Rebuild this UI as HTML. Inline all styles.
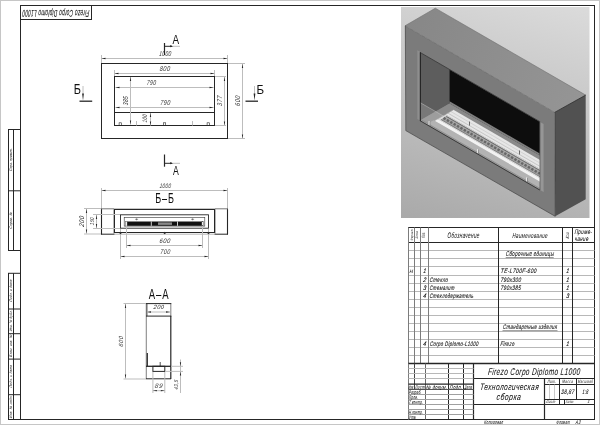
<!DOCTYPE html><html><head><meta charset="utf-8"><style>html,body{margin:0;padding:0;background:#fff;}svg{display:block;filter:grayscale(1);}text{font-family:"Liberation Sans",sans-serif;}</style></head><body>
<svg width="600" height="425" viewBox="0 0 600 425">
<rect x="0" y="0" width="600" height="425" fill="#fff"/>
<defs>
<linearGradient id="bg3d" gradientUnits="userSpaceOnUse" x1="401" y1="218" x2="477.4" y2="-55.5">
<stop offset="0" stop-color="#a9a9a9"/><stop offset="1" stop-color="#e1e1e1"/>
</linearGradient>
<linearGradient id="topf" gradientUnits="userSpaceOnUse" x1="405" y1="26" x2="585" y2="95">
<stop offset="0" stop-color="#878787"/><stop offset="1" stop-color="#959595"/>
</linearGradient>
<clipPath id="opening"><polygon points="420,52.5 539.8,121.7 539.8,189.7 420,120.5"/></clipPath>
</defs>
<rect x="401" y="7" width="188.5" height="211" fill="url(#bg3d)"/>
<polygon points="405,25.8 435.3,8.2 585.7,95.1 554.7,112.4" fill="url(#topf)"/>
<polygon points="554.7,112.4 585.7,95.1 585.7,199.3 555.2,216.3" fill="#515151"/>
<polygon points="405,25.8 554.7,112.4 555.2,216.3 405.8,130.6" fill="#7b7b7b"/>
<polygon points="417.3,50.2 420,51.8 420,120.4 417.3,118.9" fill="#8e8e8e"/>
<polygon points="539.8,121.7 543.6,123.9 543.6,192 539.8,189.8" fill="#969696"/>
<g clip-path="url(#opening)">
<polygon points="420,52.5 449.5,69.55 449.5,103.45 420,120.5" fill="#5d5d5d"/>
<polygon points="449.5,69.55 539.8,121.7 539.8,155.6 449.5,103.45" fill="#0d0d0d"/>
<polygon points="420,120.5 449.5,103.45 539.8,155.6 539.8,189.7" fill="#8a8a8a"/>
<polygon points="449.5,101.3 539.8,153.5 539.8,155.6 449.5,103.45" fill="#7e7e7e"/>
<polygon points="427.70,123.56 433.60,120.15 552.10,188.65 546.20,192.06" fill="#a4a4a4" />
<line x1="421.20" y1="119.81" x2="546.20" y2="192.06" stroke="#6a6a6a" stroke-width="0.6"/>
<polygon points="445.50,114.43 453.40,109.86 570.90,177.78 563.00,182.35" fill="#e6e6e6" />
<line x1="447.80" y1="113.10" x2="565.30" y2="181.02" stroke="#b8b8b8" stroke-width="0.7"/>
<line x1="450.70" y1="111.43" x2="568.20" y2="179.34" stroke="#c4c4c4" stroke-width="0.6"/>
<polygon points="437.60,119.00 445.50,114.43 563.00,182.35 555.10,186.91" fill="#d8d8d8" />
<polygon points="440.80,119.46 446.30,116.28 561.80,183.04 556.30,186.22" fill="#8e8e8e" />
<line x1="440.80" y1="119.46" x2="556.30" y2="186.22" stroke="#333" stroke-width="0.6"/>
<line x1="446.30" y1="116.28" x2="561.80" y2="183.04" stroke="#444" stroke-width="0.6"/>
<line x1="443.55" y1="117.87" x2="559.05" y2="184.63" stroke="#4a4a4a" stroke-width="2.6" stroke-dasharray="2.4 1.5"/>
<polygon points="434.60,120.73 437.60,119.00 555.10,186.91 552.10,188.65" fill="#f0f0f0" />
<line x1="434.60" y1="120.73" x2="453.40" y2="109.86" stroke="#9a9a9a" stroke-width="0.6"/>
<line x1="429.10" y1="125.07" x2="429.10" y2="121.07" stroke="#e8e8e8" stroke-width="1.0"/>
<line x1="430.00" y1="125.59" x2="430.00" y2="121.59" stroke="#555" stroke-width="0.5"/>
<line x1="477.60" y1="153.10" x2="477.60" y2="149.10" stroke="#e8e8e8" stroke-width="1.0"/>
<line x1="478.50" y1="153.62" x2="478.50" y2="149.62" stroke="#555" stroke-width="0.5"/>
<line x1="526.60" y1="181.42" x2="526.60" y2="177.42" stroke="#e8e8e8" stroke-width="1.0"/>
<line x1="527.50" y1="181.94" x2="527.50" y2="177.94" stroke="#555" stroke-width="0.5"/>
<line x1="469.50" y1="125.57" x2="469.50" y2="121.57" stroke="#333" stroke-width="0.7"/>
<line x1="519.50" y1="154.47" x2="519.50" y2="150.47" stroke="#333" stroke-width="0.7"/>
<polygon points="420,102.5 539.8,171.7 539.8,189.7 420,120.5" fill="#ffffff" fill-opacity="0.17"/>
<line x1="420" y1="102.5" x2="539.8" y2="171.7" stroke="#d6d6d6" stroke-width="0.4"/>
</g>
<line x1="420.3" y1="52.3" x2="420.3" y2="121" stroke="#111" stroke-width="0.9"/>
<line x1="420" y1="52.4" x2="539.8" y2="121.6" stroke="#2a2a2a" stroke-width="0.7"/>
<line x1="420" y1="120.7" x2="539.8" y2="190" stroke="#2a2a2a" stroke-width="0.8"/>
<line x1="540" y1="121.6" x2="540" y2="190" stroke="#3a3a3a" stroke-width="0.5"/>
<polyline points="405,25.8 435.3,8.2 585.7,95.1" fill="none" stroke="#6f6f6f" stroke-width="0.6"/>
<line x1="405" y1="25.8" x2="554.7" y2="112.4" stroke="#5e5e5e" stroke-width="0.8" stroke-dasharray="0.8 0.6"/>
<line x1="554.7" y1="112.4" x2="585.7" y2="95.1" stroke="#2a2a2a" stroke-width="0.8"/>
<line x1="405.3" y1="25.8" x2="405.8" y2="130.6" stroke="#4a4a4a" stroke-width="0.7"/>
<line x1="405.8" y1="130.6" x2="555.2" y2="216.3" stroke="#444" stroke-width="0.7"/>
<line x1="555" y1="112.4" x2="555.2" y2="216.3" stroke="#3a3a3a" stroke-width="0.6"/>
<rect x="20.5" y="5.5" width="574" height="414" stroke="#262626" stroke-width="1" fill="none"/>
<rect x="20.5" y="5.5" width="71" height="14" stroke="#262626" stroke-width="1" fill="none"/>
<text x="0" y="0" font-size="9.7" font-style="italic" font-weight="normal" text-anchor="middle" fill="#111" stroke="#111" stroke-width="0.1" textLength="137.79" lengthAdjust="spacing" transform="translate(56.1 10.1) rotate(180) scale(0.486 1) skewX(-9)">Firezo Corpo Diplomo L1000</text>
<rect x="8.5" y="129.5" width="12" height="121.0" stroke="#262626" stroke-width="1" fill="none"/>
<line x1="13.5" y1="129.5" x2="13.5" y2="250.5" stroke="#262626" stroke-width="1" />
<line x1="8.5" y1="190.8" x2="20.5" y2="190.8" stroke="#262626" stroke-width="1" />
<text x="0" y="0" font-size="3.8" font-style="italic" font-weight="normal" text-anchor="middle" fill="#111" stroke="#111" stroke-width="0" textLength="28.07" lengthAdjust="spacing" transform="translate(12.4 159.65) rotate(-90) scale(0.809 1) skewX(-9)">Перв. примен.</text>
<text x="0" y="0" font-size="3.8" font-style="italic" font-weight="normal" text-anchor="middle" fill="#111" stroke="#111" stroke-width="0" textLength="19.19" lengthAdjust="spacing" transform="translate(12.4 220.4) rotate(-90) scale(0.870 1) skewX(-9)">Справ. №</text>
<rect x="8.5" y="273.3" width="12" height="146.2" stroke="#262626" stroke-width="1" fill="none"/>
<line x1="13.5" y1="273.3" x2="13.5" y2="419.5" stroke="#262626" stroke-width="1" />
<line x1="8.5" y1="309.0" x2="20.5" y2="309.0" stroke="#262626" stroke-width="1" />
<line x1="8.5" y1="333.7" x2="20.5" y2="333.7" stroke="#262626" stroke-width="1" />
<line x1="8.5" y1="359.1" x2="20.5" y2="359.1" stroke="#262626" stroke-width="1" />
<line x1="8.5" y1="394.7" x2="20.5" y2="394.7" stroke="#262626" stroke-width="1" />
<text x="0" y="0" font-size="3.8" font-style="italic" font-weight="normal" text-anchor="middle" fill="#111" stroke="#111" stroke-width="0" textLength="26.43" lengthAdjust="spacing" transform="translate(12.4 290.65) rotate(-90) scale(0.832 1) skewX(-9)">Подп. и дата</text>
<text x="0" y="0" font-size="3.8" font-style="italic" font-weight="normal" text-anchor="middle" fill="#111" stroke="#111" stroke-width="0" textLength="25.97" lengthAdjust="spacing" transform="translate(12.4 320.85) rotate(-90) scale(0.809 1) skewX(-9)">Инв. № дубл.</text>
<text x="0" y="0" font-size="3.8" font-style="italic" font-weight="normal" text-anchor="middle" fill="#111" stroke="#111" stroke-width="0" textLength="26.11" lengthAdjust="spacing" transform="translate(12.4 345.9) rotate(-90) scale(0.842 1) skewX(-9)">Взам. инв. №</text>
<text x="0" y="0" font-size="3.8" font-style="italic" font-weight="normal" text-anchor="middle" fill="#111" stroke="#111" stroke-width="0" textLength="26.43" lengthAdjust="spacing" transform="translate(12.4 376.4) rotate(-90) scale(0.855 1) skewX(-9)">Подп. и дата</text>
<text x="0" y="0" font-size="3.8" font-style="italic" font-weight="normal" text-anchor="middle" fill="#111" stroke="#111" stroke-width="0" textLength="26.20" lengthAdjust="spacing" transform="translate(12.4 406.85) rotate(-90) scale(0.863 1) skewX(-9)">Инв. № подл.</text>
<rect x="101.5" y="63.5" width="126" height="75" stroke="#262626" stroke-width="1" fill="none"/>
<rect x="114.5" y="76.5" width="100" height="49" stroke="#262626" stroke-width="1" fill="none"/>
<line x1="114.5" y1="112.5" x2="214.5" y2="112.5" stroke="#262626" stroke-width="1" />
<line x1="101.5" y1="55" x2="101.5" y2="63" stroke="#bdbdbd" stroke-width="1" />
<line x1="227.5" y1="55" x2="227.5" y2="63" stroke="#bdbdbd" stroke-width="1" />
<line x1="101.5" y1="58.5" x2="227.5" y2="58.5" stroke="#bdbdbd" stroke-width="1" />
<polygon points="101.5,58.5 105.5,57.85 105.5,59.15" fill="#262626"/>
<polygon points="227.5,58.5 223.5,59.15 223.5,57.85" fill="#262626"/>
<text x="0" y="0" font-size="7.1" font-style="italic" font-weight="normal" text-anchor="middle" fill="#2e2e2e" stroke="#2e2e2e" stroke-width="0.0" textLength="17.55" lengthAdjust="spacing" transform="translate(165 55.5) scale(0.684 1) skewX(-9)">1000</text>
<line x1="114.5" y1="70" x2="114.5" y2="76" stroke="#bdbdbd" stroke-width="1" />
<line x1="214.5" y1="70" x2="214.5" y2="76" stroke="#bdbdbd" stroke-width="1" />
<line x1="114.5" y1="73.5" x2="214.5" y2="73.5" stroke="#bdbdbd" stroke-width="1" />
<polygon points="114.5,73.5 118.5,72.85 118.5,74.15" fill="#262626"/>
<polygon points="214.5,73.5 210.5,74.15 210.5,72.85" fill="#262626"/>
<text x="0" y="0" font-size="7.1" font-style="italic" font-weight="normal" text-anchor="middle" fill="#2e2e2e" stroke="#2e2e2e" stroke-width="0.0" textLength="13.16" lengthAdjust="spacing" transform="translate(164.65 71.2) scale(0.783 1) skewX(-9)">800</text>
<line x1="115.5" y1="87.5" x2="213.5" y2="87.5" stroke="#bdbdbd" stroke-width="1" />
<polygon points="115.5,87.5 119.5,86.85 119.5,88.15" fill="#262626"/>
<polygon points="213.5,87.5 209.5,88.15 209.5,86.85" fill="#262626"/>
<text x="0" y="0" font-size="7.1" font-style="italic" font-weight="normal" text-anchor="middle" fill="#2e2e2e" stroke="#2e2e2e" stroke-width="0.0" textLength="13.16" lengthAdjust="spacing" transform="translate(151.15 84.5) scale(0.707 1) skewX(-9)">790</text>
<line x1="115.5" y1="107.5" x2="213.5" y2="107.5" stroke="#bdbdbd" stroke-width="1" />
<polygon points="115.5,107.5 119.5,106.85 119.5,108.15" fill="#262626"/>
<polygon points="213.5,107.5 209.5,108.15 209.5,106.85" fill="#262626"/>
<text x="0" y="0" font-size="7.1" font-style="italic" font-weight="normal" text-anchor="middle" fill="#2e2e2e" stroke="#2e2e2e" stroke-width="0.0" textLength="13.16" lengthAdjust="spacing" transform="translate(165 105.1) scale(0.760 1) skewX(-9)">790</text>
<line x1="130.5" y1="77" x2="130.5" y2="124.5" stroke="#bdbdbd" stroke-width="1" />
<polygon points="130.5,77 131.15,81.0 129.85,81.0" fill="#262626"/>
<polygon points="130.5,124.5 129.85,120.5 131.15,120.5" fill="#262626"/>
<text x="0" y="0" font-size="7.1" font-style="italic" font-weight="normal" text-anchor="middle" fill="#2e2e2e" stroke="#2e2e2e" stroke-width="0.0" textLength="13.16" lengthAdjust="spacing" transform="translate(128.2 101) rotate(-90) scale(0.699 1) skewX(-9)">385</text>
<line x1="150.5" y1="113" x2="150.5" y2="125.5" stroke="#bdbdbd" stroke-width="1" />
<polygon points="150.5,113 151.15,117.0 149.85,117.0" fill="#262626"/>
<polygon points="150.5,125.5 149.85,121.5 151.15,121.5" fill="#262626"/>
<text x="0" y="0" font-size="6.6" font-style="italic" font-weight="normal" text-anchor="middle" fill="#2e2e2e" stroke="#2e2e2e" stroke-width="0.0" textLength="12.24" lengthAdjust="spacing" transform="translate(147.3 118.6) rotate(-90) scale(0.654 1) skewX(-9)">100</text>
<line x1="215" y1="125.5" x2="226" y2="125.5" stroke="#bdbdbd" stroke-width="1" />
<line x1="215" y1="76.5" x2="226" y2="76.5" stroke="#bdbdbd" stroke-width="1" />
<line x1="224.5" y1="77" x2="224.5" y2="125.5" stroke="#bdbdbd" stroke-width="1" />
<polygon points="224.5,77 225.15,81.0 223.85,81.0" fill="#262626"/>
<polygon points="224.5,125.5 223.85,121.5 225.15,121.5" fill="#262626"/>
<text x="0" y="0" font-size="7.1" font-style="italic" font-weight="normal" text-anchor="middle" fill="#2e2e2e" stroke="#2e2e2e" stroke-width="0.0" textLength="13.16" lengthAdjust="spacing" transform="translate(221.9 101.05) rotate(-90) scale(0.783 1) skewX(-9)">377</text>
<line x1="228" y1="63.5" x2="245" y2="63.5" stroke="#bdbdbd" stroke-width="1" />
<line x1="228" y1="138.5" x2="245" y2="138.5" stroke="#bdbdbd" stroke-width="1" />
<line x1="242.5" y1="64" x2="242.5" y2="138.5" stroke="#bdbdbd" stroke-width="1" />
<polygon points="242.5,64 243.15,68.0 241.85,68.0" fill="#262626"/>
<polygon points="242.5,138.5 241.85,134.5 243.15,134.5" fill="#262626"/>
<text x="0" y="0" font-size="7.1" font-style="italic" font-weight="normal" text-anchor="middle" fill="#2e2e2e" stroke="#2e2e2e" stroke-width="0.0" textLength="13.16" lengthAdjust="spacing" transform="translate(240.1 101.05) rotate(-90) scale(0.783 1) skewX(-9)">600</text>
<rect x="119.1" y="122.8" width="2.4" height="2.7" fill="none" stroke="#262626" stroke-width="0.6"/>
<rect x="163.3" y="122.8" width="2.4" height="2.7" fill="none" stroke="#262626" stroke-width="0.6"/>
<rect x="207.10000000000002" y="122.8" width="2.4" height="2.7" fill="none" stroke="#262626" stroke-width="0.6"/>
<line x1="136.5" y1="121" x2="136.5" y2="125.5" stroke="#bdbdbd" stroke-width="1" />
<line x1="192.5" y1="121" x2="192.5" y2="125.5" stroke="#bdbdbd" stroke-width="1" />
<line x1="164.5" y1="43" x2="164.5" y2="55" stroke="#262626" stroke-width="1.2" />
<line x1="164.5" y1="46.3" x2="172" y2="46.3" stroke="#262626" stroke-width="1" />
<polygon points="173.5,46.3 170.0,47.3 170.0,45.3" fill="#262626"/>
<line x1="173" y1="46.3" x2="180" y2="46.3" stroke="#bdbdbd" stroke-width="1" />
<text x="0" y="0" font-size="13.6" font-style="normal" font-weight="normal" text-anchor="middle" fill="#111" stroke="#111" stroke-width="0" transform="translate(175.75 43.5) scale(0.728 1)">A</text>
<line x1="83" y1="86" x2="83" y2="95" stroke="#b0b0b0" stroke-width="0.8" />
<polygon points="82.1,93.5 83.9,93.5 83,100.6" fill="#262626"/>
<line x1="79.5" y1="101.2" x2="92.2" y2="101.2" stroke="#262626" stroke-width="1.3" />
<text x="0" y="0" font-size="14.3" font-style="normal" font-weight="normal" text-anchor="middle" fill="#111" stroke="#111" stroke-width="0" transform="translate(77.3 93.9) scale(0.767 1)">Б</text>
<line x1="254.5" y1="86" x2="254.5" y2="95" stroke="#b0b0b0" stroke-width="0.8" />
<polygon points="253.6,93.5 255.4,93.5 254.5,100.6" fill="#262626"/>
<line x1="245.5" y1="101.2" x2="258" y2="101.2" stroke="#262626" stroke-width="1.3" />
<text x="0" y="0" font-size="13.6" font-style="normal" font-weight="normal" text-anchor="middle" fill="#111" stroke="#111" stroke-width="0" transform="translate(260.2 93.6) scale(0.852 1)">Б</text>
<line x1="164.5" y1="154.5" x2="164.5" y2="166.7" stroke="#262626" stroke-width="1.2" />
<line x1="164.5" y1="163.3" x2="172" y2="163.3" stroke="#262626" stroke-width="1" />
<polygon points="173.5,163.3 170.0,164.3 170.0,162.3" fill="#262626"/>
<line x1="173" y1="163.3" x2="180" y2="163.3" stroke="#bdbdbd" stroke-width="1" />
<text x="0" y="0" font-size="12.6" font-style="normal" font-weight="normal" text-anchor="middle" fill="#111" stroke="#111" stroke-width="0" transform="translate(175.9 174.7) scale(0.690 1)">A</text>
<line x1="101.5" y1="188" x2="101.5" y2="208" stroke="#bdbdbd" stroke-width="1" />
<line x1="227.5" y1="188" x2="227.5" y2="208" stroke="#bdbdbd" stroke-width="1" />
<line x1="101.5" y1="190.5" x2="227.5" y2="190.5" stroke="#bdbdbd" stroke-width="1" />
<polygon points="101.5,190.5 105.5,189.85 105.5,191.15" fill="#262626"/>
<polygon points="227.5,190.5 223.5,191.15 223.5,189.85" fill="#262626"/>
<text x="0" y="0" font-size="6.6" font-style="italic" font-weight="normal" text-anchor="middle" fill="#2e2e2e" stroke="#2e2e2e" stroke-width="0.0" textLength="16.31" lengthAdjust="spacing" transform="translate(165.1 187.6) scale(0.699 1) skewX(-9)">1000</text>
<text x="0" y="0" font-size="14.3" font-style="normal" font-weight="normal" text-anchor="middle" fill="#111" stroke="#111" stroke-width="0" textLength="29.69" lengthAdjust="spacing" transform="translate(164.6 203.3) scale(0.633 1)">Б–Б</text>
<line x1="101.5" y1="208.5" x2="101.5" y2="234.5" stroke="#262626" stroke-width="1.1" />
<line x1="101" y1="208.8" x2="114" y2="208.8" stroke="#777" stroke-width="1" />
<line x1="101" y1="234.2" x2="114.5" y2="234.2" stroke="#262626" stroke-width="1" />
<line x1="113.6" y1="208.8" x2="113.6" y2="234.2" stroke="#999" stroke-width="0.8" />
<line x1="114.5" y1="209" x2="114.5" y2="233" stroke="#262626" stroke-width="1" />
<line x1="227.5" y1="208.5" x2="227.5" y2="234.5" stroke="#262626" stroke-width="1.1" />
<line x1="215" y1="208.8" x2="228" y2="208.8" stroke="#777" stroke-width="1" />
<line x1="214.5" y1="234.2" x2="228" y2="234.2" stroke="#262626" stroke-width="1" />
<line x1="215.4" y1="208.8" x2="215.4" y2="234.2" stroke="#999" stroke-width="0.8" />
<line x1="214.5" y1="209" x2="214.5" y2="233" stroke="#262626" stroke-width="1" />
<line x1="114" y1="209.4" x2="215" y2="209.4" stroke="#262626" stroke-width="1.3" />
<line x1="114" y1="232.5" x2="215" y2="232.5" stroke="#262626" stroke-width="1.2" />
<line x1="114" y1="234.2" x2="215" y2="234.2" stroke="#999" stroke-width="0.7" />
<rect x="120.5" y="214.8" width="88" height="13.4" stroke="#262626" stroke-width="0.9" fill="none"/>
<rect x="124.2" y="217.4" width="80.6" height="8.7" stroke="#333" stroke-width="0.6" fill="none"/>
<rect x="125.5" y="221.5" width="78" height="4.3" fill="#111"/>
<rect x="125.3" y="221.3" width="1.8" height="4.7" fill="#fff" stroke="#555" stroke-width="0.4"/>
<rect x="201.9" y="221.3" width="1.8" height="4.7" fill="#fff" stroke="#555" stroke-width="0.4"/>
<line x1="151.3" y1="221.5" x2="151.3" y2="225.8" stroke="#fff" stroke-width="0.8" />
<line x1="177.5" y1="221.5" x2="177.5" y2="225.8" stroke="#fff" stroke-width="0.8" />
<rect x="158" y="222.4" width="14" height="2.5" fill="#888"/>
<line x1="135.1" y1="219.3" x2="138.1" y2="219.3" stroke="#333" stroke-width="0.5" />
<line x1="136.6" y1="218.3" x2="136.6" y2="220.3" stroke="#333" stroke-width="0.5" />
<line x1="191.1" y1="219.3" x2="194.1" y2="219.3" stroke="#333" stroke-width="0.5" />
<line x1="192.6" y1="218.3" x2="192.6" y2="220.3" stroke="#333" stroke-width="0.5" />
<line x1="84" y1="208.5" x2="101" y2="208.5" stroke="#bdbdbd" stroke-width="1" />
<line x1="84" y1="234" x2="101" y2="234" stroke="#bdbdbd" stroke-width="1" />
<line x1="86.5" y1="209" x2="86.5" y2="233.5" stroke="#bdbdbd" stroke-width="1" />
<polygon points="86.5,209 87.15,213.0 85.85,213.0" fill="#262626"/>
<polygon points="86.5,233.5 85.85,229.5 87.15,229.5" fill="#262626"/>
<text x="0" y="0" font-size="6.9" font-style="italic" font-weight="normal" text-anchor="middle" fill="#2e2e2e" stroke="#2e2e2e" stroke-width="0.0" textLength="12.79" lengthAdjust="spacing" transform="translate(84.4 221.6) rotate(-90) scale(0.860 1) skewX(-9)">200</text>
<line x1="93" y1="214.5" x2="120" y2="214.5" stroke="#bdbdbd" stroke-width="1" />
<line x1="93" y1="228.5" x2="120" y2="228.5" stroke="#bdbdbd" stroke-width="1" />
<line x1="96.5" y1="215" x2="96.5" y2="228" stroke="#bdbdbd" stroke-width="1" />
<polygon points="96.5,215 97.15,219.0 95.85,219.0" fill="#262626"/>
<polygon points="96.5,228 95.85,224.0 97.15,224.0" fill="#262626"/>
<text x="0" y="0" font-size="5.8" font-style="italic" font-weight="normal" text-anchor="middle" fill="#2e2e2e" stroke="#2e2e2e" stroke-width="0.0" textLength="10.75" lengthAdjust="spacing" transform="translate(93.6 221.4) rotate(-90) scale(0.707 1) skewX(-9)">150</text>
<line x1="126.5" y1="226" x2="126.5" y2="248" stroke="#bdbdbd" stroke-width="1" />
<line x1="202.5" y1="226" x2="202.5" y2="248" stroke="#bdbdbd" stroke-width="1" />
<line x1="126.5" y1="245.5" x2="202.5" y2="245.5" stroke="#bdbdbd" stroke-width="1" />
<polygon points="126.5,245.5 130.5,244.85 130.5,246.15" fill="#262626"/>
<polygon points="202.5,245.5 198.5,246.15 198.5,244.85" fill="#262626"/>
<text x="0" y="0" font-size="6.5" font-style="italic" font-weight="normal" text-anchor="middle" fill="#2e2e2e" stroke="#2e2e2e" stroke-width="0.0" textLength="12.05" lengthAdjust="spacing" transform="translate(164.6 242.5) scale(0.896 1) skewX(-9)">600</text>
<line x1="120.5" y1="229" x2="120.5" y2="259" stroke="#bdbdbd" stroke-width="1" />
<line x1="208.5" y1="229" x2="208.5" y2="259" stroke="#bdbdbd" stroke-width="1" />
<line x1="120.5" y1="256.5" x2="208.5" y2="256.5" stroke="#bdbdbd" stroke-width="1" />
<polygon points="120.5,256.5 124.5,255.85 124.5,257.15" fill="#262626"/>
<polygon points="208.5,256.5 204.5,257.15 204.5,255.85" fill="#262626"/>
<text x="0" y="0" font-size="6.8" font-style="italic" font-weight="normal" text-anchor="middle" fill="#2e2e2e" stroke="#2e2e2e" stroke-width="0.0" textLength="12.61" lengthAdjust="spacing" transform="translate(165 254.2) scale(0.793 1) skewX(-9)">700</text>
<polygon points="119.2,233 120.5,231.7 121.8,233 120.5,234.3" fill="#262626"/>
<polygon points="163.39999999999998,233 164.7,231.7 166.0,233 164.7,234.3" fill="#262626"/>
<polygon points="207.2,233 208.5,231.7 209.8,233 208.5,234.3" fill="#262626"/>
<text x="0" y="0" font-size="14.9" font-style="normal" font-weight="normal" text-anchor="middle" fill="#111" stroke="#111" stroke-width="0" textLength="31.29" lengthAdjust="spacing" transform="translate(158.65 298.6) scale(0.639 1)">А–А</text>
<line x1="146.3" y1="303.5" x2="146.3" y2="379" stroke="#8a8a8a" stroke-width="1.1" />
<line x1="147" y1="303.5" x2="147" y2="316" stroke="#262626" stroke-width="0.7" />
<line x1="170.8" y1="303.5" x2="170.8" y2="316" stroke="#8a8a8a" stroke-width="1.1" />
<line x1="170.8" y1="316" x2="170.8" y2="379" stroke="#262626" stroke-width="1.2" />
<line x1="146" y1="303.6" x2="171.3" y2="303.6" stroke="#262626" stroke-width="1" />
<line x1="146" y1="316.1" x2="171.3" y2="316.1" stroke="#262626" stroke-width="1" />
<line x1="146" y1="378.8" x2="171" y2="378.8" stroke="#262626" stroke-width="1" />
<line x1="146" y1="366.3" x2="171" y2="366.3" stroke="#262626" stroke-width="1.3" />
<line x1="147" y1="312" x2="170" y2="312" stroke="#bdbdbd" stroke-width="1" />
<polygon points="147,312 151.0,311.35 151.0,312.65" fill="#262626"/>
<polygon points="170,312 166.0,312.65 166.0,311.35" fill="#262626"/>
<text x="0" y="0" font-size="6" font-style="italic" font-weight="normal" text-anchor="middle" fill="#2e2e2e" stroke="#2e2e2e" stroke-width="0.0" textLength="11.12" lengthAdjust="spacing" transform="translate(158.5 309.4) scale(0.953 1) skewX(-9)">200</text>
<line x1="147.3" y1="353" x2="147.3" y2="366" stroke="#262626" stroke-width="1.2" />
<rect x="152.9" y="366.3" width="11.9" height="5.1" stroke="#262626" stroke-width="1" fill="none"/>
<line x1="160.2" y1="362" x2="160.2" y2="366" stroke="#262626" stroke-width="0.8" />
<line x1="123.5" y1="303.5" x2="146" y2="303.5" stroke="#bdbdbd" stroke-width="1" />
<line x1="123.5" y1="379" x2="146" y2="379" stroke="#bdbdbd" stroke-width="1" />
<line x1="125.5" y1="304" x2="125.5" y2="378.5" stroke="#bdbdbd" stroke-width="1" />
<polygon points="125.5,304 126.15,308.0 124.85,308.0" fill="#262626"/>
<polygon points="125.5,378.5 124.85,374.5 126.15,374.5" fill="#262626"/>
<text x="0" y="0" font-size="6" font-style="italic" font-weight="normal" text-anchor="middle" fill="#2e2e2e" stroke="#2e2e2e" stroke-width="0.0" textLength="11.12" lengthAdjust="spacing" transform="translate(123 341.7) rotate(-90) scale(0.953 1) skewX(-9)">600</text>
<line x1="152.9" y1="372" x2="152.9" y2="393" stroke="#bdbdbd" stroke-width="1" />
<line x1="164.8" y1="372" x2="164.8" y2="393" stroke="#bdbdbd" stroke-width="1" />
<line x1="152.9" y1="390.7" x2="164.8" y2="390.7" stroke="#bdbdbd" stroke-width="1" />
<polygon points="152.9,390.7 156.9,390.05 156.9,391.34999999999997" fill="#262626"/>
<polygon points="164.8,390.7 160.8,391.34999999999997 160.8,390.05" fill="#262626"/>
<text x="0" y="0" font-size="6.6" font-style="italic" font-weight="normal" text-anchor="middle" fill="#2e2e2e" stroke="#2e2e2e" stroke-width="0.0" textLength="8.16" lengthAdjust="spacing" transform="translate(158.3 387.9) scale(0.956 1) skewX(-9)">89</text>
<line x1="171" y1="366.3" x2="183" y2="366.3" stroke="#bdbdbd" stroke-width="1" />
<line x1="165" y1="371.4" x2="183" y2="371.4" stroke="#bdbdbd" stroke-width="1" />
<line x1="180.5" y1="359.5" x2="180.5" y2="393" stroke="#bdbdbd" stroke-width="1" />
<polygon points="180.5,366.3 179.85,362.3 181.15,362.3" fill="#262626"/>
<polygon points="180.5,371.4 181.15,375.4 179.85,375.4" fill="#262626"/>
<text x="0" y="0" font-size="5.6" font-style="italic" font-weight="normal" text-anchor="middle" fill="#2e2e2e" stroke="#2e2e2e" stroke-width="0.0" textLength="12.11" lengthAdjust="spacing" transform="translate(177.7 384.9) rotate(-90) scale(0.809 1) skewX(-9)">43,5</text>
<line x1="408.0" y1="227.5" x2="595.0" y2="227.5" stroke="#262626" stroke-width="1" />
<line x1="408.5" y1="242.5" x2="594.5" y2="242.5" stroke="#262626" stroke-width="1" />
<line x1="408.5" y1="250.5" x2="594.5" y2="250.5" stroke="#b8b8b8" stroke-width="1" />
<line x1="408.5" y1="258.5" x2="594.5" y2="258.5" stroke="#b8b8b8" stroke-width="1" />
<line x1="408.5" y1="266.5" x2="594.5" y2="266.5" stroke="#b8b8b8" stroke-width="1" />
<line x1="408.5" y1="275.5" x2="594.5" y2="275.5" stroke="#b8b8b8" stroke-width="1" />
<line x1="408.5" y1="283.5" x2="594.5" y2="283.5" stroke="#b8b8b8" stroke-width="1" />
<line x1="408.5" y1="291.5" x2="594.5" y2="291.5" stroke="#b8b8b8" stroke-width="1" />
<line x1="408.5" y1="299.5" x2="594.5" y2="299.5" stroke="#b8b8b8" stroke-width="1" />
<line x1="408.5" y1="307.5" x2="594.5" y2="307.5" stroke="#b8b8b8" stroke-width="1" />
<line x1="408.5" y1="315.5" x2="594.5" y2="315.5" stroke="#b8b8b8" stroke-width="1" />
<line x1="408.5" y1="323.5" x2="594.5" y2="323.5" stroke="#b8b8b8" stroke-width="1" />
<line x1="408.5" y1="331.5" x2="594.5" y2="331.5" stroke="#b8b8b8" stroke-width="1" />
<line x1="408.5" y1="339.5" x2="594.5" y2="339.5" stroke="#b8b8b8" stroke-width="1" />
<line x1="408.5" y1="347.5" x2="594.5" y2="347.5" stroke="#b8b8b8" stroke-width="1" />
<line x1="408.5" y1="355.5" x2="594.5" y2="355.5" stroke="#b8b8b8" stroke-width="1" />
<line x1="408.5" y1="227.5" x2="408.5" y2="363.5" stroke="#7c7c7c" stroke-width="1" />
<line x1="414.5" y1="227.5" x2="414.5" y2="363.5" stroke="#7c7c7c" stroke-width="1" />
<line x1="420.5" y1="227.5" x2="420.5" y2="363.5" stroke="#7c7c7c" stroke-width="1" />
<line x1="428.5" y1="227.5" x2="428.5" y2="363.5" stroke="#7c7c7c" stroke-width="1" />
<line x1="498.5" y1="227.5" x2="498.5" y2="363.5" stroke="#262626" stroke-width="1" />
<line x1="562.5" y1="227.5" x2="562.5" y2="363.5" stroke="#262626" stroke-width="1" />
<line x1="572.5" y1="227.5" x2="572.5" y2="363.5" stroke="#262626" stroke-width="1" />
<text x="0" y="0" font-size="3.6" font-style="italic" font-weight="normal" text-anchor="middle" fill="#111" stroke="#111" stroke-width="0" textLength="15.88" lengthAdjust="spacing" transform="translate(412.6 235) rotate(-90) scale(0.693 1) skewX(-9)">Формат</text>
<text x="0" y="0" font-size="3.6" font-style="italic" font-weight="normal" text-anchor="middle" fill="#111" stroke="#111" stroke-width="0" textLength="9.11" lengthAdjust="spacing" transform="translate(418.4 235) rotate(-90) scale(0.824 1) skewX(-9)">Зона</text>
<text x="0" y="0" font-size="4.6" font-style="italic" font-weight="normal" text-anchor="middle" fill="#111" stroke="#111" stroke-width="0" textLength="10.28" lengthAdjust="spacing" transform="translate(425.4 235) rotate(-90) scale(0.603 1) skewX(-9)">Поз.</text>
<text x="0" y="0" font-size="8" font-style="italic" font-weight="normal" text-anchor="middle" fill="#111" stroke="#111" stroke-width="0.02" textLength="54.45" lengthAdjust="spacing" transform="translate(463.25 237.8) scale(0.586 1) skewX(-9)">Обозначение</text>
<text x="0" y="0" font-size="7.2" font-style="italic" font-weight="normal" text-anchor="middle" fill="#111" stroke="#111" stroke-width="0.02" textLength="55.21" lengthAdjust="spacing" transform="translate(529.8 237.7) scale(0.638 1) skewX(-9)">Наименование</text>
<text x="0" y="0" font-size="4.6" font-style="italic" font-weight="normal" text-anchor="middle" fill="#111" stroke="#111" stroke-width="0" textLength="10.05" lengthAdjust="spacing" transform="translate(568.6 235.1) rotate(-90) scale(0.677 1) skewX(-9)">Кол.</text>
<text x="0" y="0" font-size="6.6" font-style="italic" font-weight="normal" text-anchor="start" fill="#111" stroke="#111" stroke-width="0.1" textLength="25.02" lengthAdjust="spacing" transform="translate(574.4 234.3) scale(0.699 1) skewX(-9)">Приме-</text>
<text x="0" y="0" font-size="6.6" font-style="italic" font-weight="normal" text-anchor="start" fill="#111" stroke="#111" stroke-width="0.1" textLength="20.07" lengthAdjust="spacing" transform="translate(574.6 240.7) scale(0.673 1) skewX(-9)">чание</text>
<text x="0" y="0" font-size="7" font-style="italic" font-weight="normal" text-anchor="middle" fill="#111" stroke="#111" stroke-width="0.1" textLength="74.78" lengthAdjust="spacing" transform="translate(529.7 255.7) scale(0.642 1) skewX(-9)">Сборочные единицы</text>
<line x1="505.7" y1="257.6" x2="553.7" y2="257.6" stroke="#444" stroke-width="0.6" />
<text x="0" y="0" font-size="5.2" font-style="italic" font-weight="normal" text-anchor="middle" fill="#111" stroke="#111" stroke-width="0.06" textLength="7.07" lengthAdjust="spacing" transform="translate(411.2 272.9) scale(0.509 1) skewX(-9)">A4</text>
<text x="0" y="0" font-size="6.4" font-style="italic" font-weight="normal" text-anchor="middle" fill="#111" stroke="#111" stroke-width="0.1" transform="translate(424.4 272.9) scale(0.850 1) skewX(-9)">1</text>
<text x="0" y="0" font-size="6.4" font-style="italic" font-weight="normal" text-anchor="start" fill="#111" stroke="#111" stroke-width="0.1" textLength="45.85" lengthAdjust="spacing" transform="translate(500.6 272.9) scale(0.779 1) skewX(-9)">TE-L700F-600</text>
<text x="0" y="0" font-size="6.4" font-style="italic" font-weight="normal" text-anchor="middle" fill="#111" stroke="#111" stroke-width="0.1" transform="translate(567.6 272.9) scale(0.850 1) skewX(-9)">1</text>
<text x="0" y="0" font-size="6.4" font-style="italic" font-weight="normal" text-anchor="middle" fill="#111" stroke="#111" stroke-width="0.1" transform="translate(424.4 281.9) scale(0.850 1) skewX(-9)">2</text>
<text x="0" y="0" font-size="6.4" font-style="italic" font-weight="normal" text-anchor="start" fill="#111" stroke="#111" stroke-width="0.1" textLength="26.34" lengthAdjust="spacing" transform="translate(429.4 281.9) scale(0.699 1) skewX(-9)">Стекло</text>
<text x="0" y="0" font-size="6.4" font-style="italic" font-weight="normal" text-anchor="start" fill="#111" stroke="#111" stroke-width="0.1" textLength="27.29" lengthAdjust="spacing" transform="translate(500.6 281.9) scale(0.748 1) skewX(-9)">790x300</text>
<text x="0" y="0" font-size="6.4" font-style="italic" font-weight="normal" text-anchor="middle" fill="#111" stroke="#111" stroke-width="0.1" transform="translate(567.6 281.9) scale(0.850 1) skewX(-9)">1</text>
<text x="0" y="0" font-size="6.4" font-style="italic" font-weight="normal" text-anchor="middle" fill="#111" stroke="#111" stroke-width="0.1" transform="translate(424.4 289.9) scale(0.850 1) skewX(-9)">3</text>
<text x="0" y="0" font-size="6.4" font-style="italic" font-weight="normal" text-anchor="start" fill="#111" stroke="#111" stroke-width="0.1" textLength="37.57" lengthAdjust="spacing" transform="translate(429.4 289.9) scale(0.665 1) skewX(-9)">Стемалит</text>
<text x="0" y="0" font-size="6.4" font-style="italic" font-weight="normal" text-anchor="start" fill="#111" stroke="#111" stroke-width="0.1" textLength="27.29" lengthAdjust="spacing" transform="translate(500.6 289.9) scale(0.733 1) skewX(-9)">790x385</text>
<text x="0" y="0" font-size="6.4" font-style="italic" font-weight="normal" text-anchor="middle" fill="#111" stroke="#111" stroke-width="0.1" transform="translate(567.6 289.9) scale(0.850 1) skewX(-9)">1</text>
<text x="0" y="0" font-size="6.4" font-style="italic" font-weight="normal" text-anchor="middle" fill="#111" stroke="#111" stroke-width="0.1" transform="translate(424.4 297.9) scale(0.850 1) skewX(-9)">4</text>
<text x="0" y="0" font-size="6.4" font-style="italic" font-weight="normal" text-anchor="start" fill="#111" stroke="#111" stroke-width="0.1" textLength="64.34" lengthAdjust="spacing" transform="translate(429.4 297.9) scale(0.684 1) skewX(-9)">Стеклодержатель</text>
<text x="0" y="0" font-size="6.4" font-style="italic" font-weight="normal" text-anchor="middle" fill="#111" stroke="#111" stroke-width="0.1" transform="translate(567.6 297.9) scale(0.850 1) skewX(-9)">3</text>
<text x="0" y="0" font-size="6.4" font-style="italic" font-weight="normal" text-anchor="middle" fill="#111" stroke="#111" stroke-width="0.1" textLength="78.28" lengthAdjust="spacing" transform="translate(529.8 329.29999999999995) scale(0.690 1) skewX(-9)">Стандартные изделия</text>
<line x1="502.5" y1="330.6" x2="557.5" y2="330.6" stroke="#555" stroke-width="0.6" />
<text x="0" y="0" font-size="6.4" font-style="italic" font-weight="normal" text-anchor="middle" fill="#111" stroke="#111" stroke-width="0.1" transform="translate(424.4 345.9) scale(0.850 1) skewX(-9)">4</text>
<text x="0" y="0" font-size="6.4" font-style="italic" font-weight="normal" text-anchor="start" fill="#111" stroke="#111" stroke-width="0.1" textLength="69.57" lengthAdjust="spacing" transform="translate(429.7 345.9) scale(0.699 1) skewX(-9)">Corpo Diplomo-L1000</text>
<text x="0" y="0" font-size="6.4" font-style="italic" font-weight="normal" text-anchor="start" fill="#111" stroke="#111" stroke-width="0.1" textLength="19.76" lengthAdjust="spacing" transform="translate(500.2 345.9) scale(0.709 1) skewX(-9)">Firezo</text>
<text x="0" y="0" font-size="6.4" font-style="italic" font-weight="normal" text-anchor="middle" fill="#111" stroke="#111" stroke-width="0.1" transform="translate(567.6 345.9) scale(0.850 1) skewX(-9)">1</text>
<line x1="408.0" y1="363.5" x2="594.5" y2="363.5" stroke="#262626" stroke-width="1.3" />
<line x1="425.5" y1="363.5" x2="425.5" y2="419.5" stroke="#6a6a6a" stroke-width="1" />
<line x1="448.5" y1="363.5" x2="448.5" y2="419.5" stroke="#262626" stroke-width="1" />
<line x1="463.5" y1="363.5" x2="463.5" y2="419.5" stroke="#262626" stroke-width="1" />
<line x1="414.5" y1="363.5" x2="414.5" y2="389.5" stroke="#444" stroke-width="1" />
<line x1="408.5" y1="363.5" x2="408.5" y2="419.5" stroke="#7c7c7c" stroke-width="1" />
<line x1="473.5" y1="363.5" x2="473.5" y2="419.5" stroke="#262626" stroke-width="1.2" />
<line x1="408.5" y1="368.5" x2="473.5" y2="368.5" stroke="#b8b8b8" stroke-width="1" />
<line x1="408.5" y1="373.5" x2="473.5" y2="373.5" stroke="#b8b8b8" stroke-width="1" />
<line x1="408.5" y1="378.5" x2="473.5" y2="378.5" stroke="#b8b8b8" stroke-width="1" />
<line x1="408.5" y1="384.2" x2="473.5" y2="384.2" stroke="#262626" stroke-width="1.3" />
<line x1="408.5" y1="389.5" x2="473.5" y2="389.5" stroke="#555" stroke-width="1" />
<line x1="408.5" y1="394.5" x2="473.5" y2="394.5" stroke="#a0a0a0" stroke-width="1" />
<line x1="408.5" y1="399.5" x2="473.5" y2="399.5" stroke="#a0a0a0" stroke-width="1" />
<line x1="408.5" y1="404.5" x2="473.5" y2="404.5" stroke="#a0a0a0" stroke-width="1" />
<line x1="408.5" y1="409.5" x2="473.5" y2="409.5" stroke="#a0a0a0" stroke-width="1" />
<line x1="408.5" y1="414.5" x2="473.5" y2="414.5" stroke="#a0a0a0" stroke-width="1" />
<text x="0" y="0" font-size="5" font-style="italic" font-weight="normal" text-anchor="middle" fill="#111" stroke="#111" stroke-width="0.06" textLength="11.85" lengthAdjust="spacing" transform="translate(411.25 388.9) scale(0.464 1) skewX(-9)">Изм.</text>
<text x="0" y="0" font-size="5" font-style="italic" font-weight="normal" text-anchor="middle" fill="#111" stroke="#111" stroke-width="0.06" textLength="14.30" lengthAdjust="spacing" transform="translate(419.75 388.9) scale(0.664 1) skewX(-9)">Лист</text>
<text x="0" y="0" font-size="5" font-style="italic" font-weight="normal" text-anchor="middle" fill="#111" stroke="#111" stroke-width="0.06" textLength="24.47" lengthAdjust="spacing" transform="translate(436.5 388.9) scale(0.858 1) skewX(-9)">№ докум.</text>
<text x="0" y="0" font-size="5" font-style="italic" font-weight="normal" text-anchor="middle" fill="#111" stroke="#111" stroke-width="0.06" textLength="14.79" lengthAdjust="spacing" transform="translate(455.75 388.9) scale(0.845 1) skewX(-9)">Подп.</text>
<text x="0" y="0" font-size="5" font-style="italic" font-weight="normal" text-anchor="middle" fill="#111" stroke="#111" stroke-width="0.06" textLength="14.66" lengthAdjust="spacing" transform="translate(468.25 388.9) scale(0.512 1) skewX(-9)">Дата</text>
<text x="0" y="0" font-size="5" font-style="italic" font-weight="normal" text-anchor="start" fill="#111" stroke="#111" stroke-width="0.06" textLength="20.10" lengthAdjust="spacing" transform="translate(408.8 393.9) scale(0.622 1) skewX(-9)">Разраб.</text>
<text x="0" y="0" font-size="5" font-style="italic" font-weight="normal" text-anchor="start" fill="#111" stroke="#111" stroke-width="0.06" textLength="14.65" lengthAdjust="spacing" transform="translate(408.8 398.9) scale(0.614 1) skewX(-9)">Пров.</text>
<text x="0" y="0" font-size="5" font-style="italic" font-weight="normal" text-anchor="start" fill="#111" stroke="#111" stroke-width="0.06" textLength="22.41" lengthAdjust="spacing" transform="translate(408.8 403.9) scale(0.625 1) skewX(-9)">Т.контр.</text>
<text x="0" y="0" font-size="5" font-style="italic" font-weight="normal" text-anchor="start" fill="#111" stroke="#111" stroke-width="0.06" textLength="23.52" lengthAdjust="spacing" transform="translate(408.8 413.9) scale(0.595 1) skewX(-9)">Н.контр.</text>
<text x="0" y="0" font-size="5" font-style="italic" font-weight="normal" text-anchor="start" fill="#111" stroke="#111" stroke-width="0.06" textLength="12.62" lengthAdjust="spacing" transform="translate(408.8 418.9) scale(0.594 1) skewX(-9)">Утв.</text>
<line x1="473.5" y1="378.5" x2="594.5" y2="378.5" stroke="#262626" stroke-width="1.2" />
<line x1="544.5" y1="378.5" x2="544.5" y2="419.5" stroke="#262626" stroke-width="1.2" />
<line x1="544.5" y1="384.5" x2="594.5" y2="384.5" stroke="#262626" stroke-width="1" />
<line x1="559.5" y1="378.5" x2="559.5" y2="404.5" stroke="#262626" stroke-width="1" />
<line x1="576.5" y1="378.5" x2="576.5" y2="399.5" stroke="#262626" stroke-width="1" />
<line x1="549.5" y1="384.5" x2="549.5" y2="399.5" stroke="#bdbdbd" stroke-width="0.8" />
<line x1="554.5" y1="384.5" x2="554.5" y2="399.5" stroke="#bdbdbd" stroke-width="0.8" />
<line x1="544.5" y1="399.5" x2="594.5" y2="399.5" stroke="#262626" stroke-width="1" />
<line x1="473.5" y1="404.5" x2="594.5" y2="404.5" stroke="#262626" stroke-width="1.2" />
<line x1="564.5" y1="399.5" x2="564.5" y2="404.5" stroke="#262626" stroke-width="1" />
<text x="0" y="0" font-size="9.8" font-style="italic" font-weight="normal" text-anchor="middle" fill="#111" stroke="#111" stroke-width="0.05" textLength="139.21" lengthAdjust="spacing" transform="translate(533.75 374.8) scale(0.662 1) skewX(-9)">Firezo Corpo Diplomo L1000</text>
<text x="0" y="0" font-size="9.4" font-style="italic" font-weight="normal" text-anchor="middle" fill="#111" stroke="#111" stroke-width="0.05" textLength="83.23" lengthAdjust="spacing" transform="translate(509.15 390.1) scale(0.705 1) skewX(-9)">Технологическая</text>
<text x="0" y="0" font-size="9.4" font-style="italic" font-weight="normal" text-anchor="middle" fill="#111" stroke="#111" stroke-width="0.05" textLength="33.46" lengthAdjust="spacing" transform="translate(508.45 400) scale(0.732 1) skewX(-9)">сборка</text>
<text x="0" y="0" font-size="4.6" font-style="italic" font-weight="normal" text-anchor="middle" fill="#111" stroke="#111" stroke-width="0" textLength="11.97" lengthAdjust="spacing" transform="translate(551.65 383.4) scale(0.727 1) skewX(-9)">Лит.</text>
<text x="0" y="0" font-size="4.6" font-style="italic" font-weight="normal" text-anchor="middle" fill="#111" stroke="#111" stroke-width="0" textLength="15.11" lengthAdjust="spacing" transform="translate(567.4 383.4) scale(0.711 1) skewX(-9)">Масса</text>
<text x="0" y="0" font-size="4.6" font-style="italic" font-weight="normal" text-anchor="middle" fill="#111" stroke="#111" stroke-width="0" textLength="23.87" lengthAdjust="spacing" transform="translate(585.25 383.4) scale(0.628 1) skewX(-9)">Масштаб</text>
<text x="0" y="0" font-size="6.6" font-style="italic" font-weight="normal" text-anchor="middle" fill="#111" stroke="#111" stroke-width="0.12" textLength="18.35" lengthAdjust="spacing" transform="translate(567.55 393.8) scale(0.703 1) skewX(-9)">38,87</text>
<text x="0" y="0" font-size="6.6" font-style="italic" font-weight="normal" text-anchor="middle" fill="#111" stroke="#111" stroke-width="0.12" textLength="10.19" lengthAdjust="spacing" transform="translate(585.25 393.8) scale(0.579 1) skewX(-9)">1:8</text>
<text x="0" y="0" font-size="4.2" font-style="italic" font-weight="normal" text-anchor="middle" fill="#111" stroke="#111" stroke-width="0" textLength="12.02" lengthAdjust="spacing" transform="translate(550.6 403.1) scale(0.766 1) skewX(-9)">Лист</text>
<text x="0" y="0" font-size="4.2" font-style="italic" font-weight="normal" text-anchor="middle" fill="#111" stroke="#111" stroke-width="0" textLength="16.99" lengthAdjust="spacing" transform="translate(569.5 403.1) scale(0.441 1) skewX(-9)">Листов</text>
<text x="0" y="0" font-size="4.2" font-style="italic" font-weight="normal" text-anchor="middle" fill="#111" stroke="#111" stroke-width="0" transform="translate(588.3 403.1) skewX(-9)">1</text>
<text x="0" y="0" font-size="5" font-style="italic" font-weight="normal" text-anchor="middle" fill="#111" stroke="#111" stroke-width="0.06" textLength="27.63" lengthAdjust="spacing" transform="translate(493.5 424.2) scale(0.688 1) skewX(-9)">Копировал</text>
<text x="0" y="0" font-size="5" font-style="italic" font-weight="normal" text-anchor="middle" fill="#111" stroke="#111" stroke-width="0.06" textLength="22.06" lengthAdjust="spacing" transform="translate(563 424.2) scale(0.612 1) skewX(-9)">Формат</text>
<text x="0" y="0" font-size="5" font-style="italic" font-weight="normal" text-anchor="middle" fill="#111" stroke="#111" stroke-width="0.06" textLength="6.80" lengthAdjust="spacing" transform="translate(578 424.2) scale(0.736 1) skewX(-9)">A2</text>
<rect x="0.5" y="0.5" width="599" height="424" fill="none" stroke="#c6c6c6" stroke-width="1"/>
</svg></body></html>
